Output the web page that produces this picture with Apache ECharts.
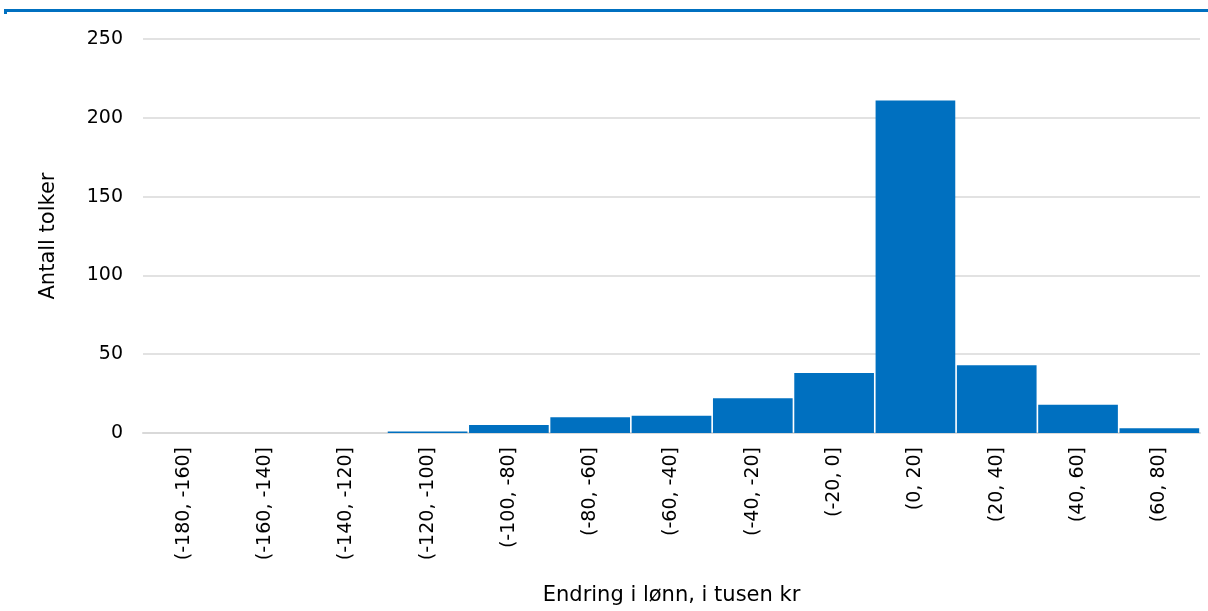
<!DOCTYPE html>
<html>
<head>
<meta charset="utf-8">
<script src="https://cdn.jsdelivr.net/npm/echarts@6/dist/echarts.min.js"></script>
<style>
  html, body { margin: 0; padding: 0; background: #fff; }
  #chart { width: 1208px; height: 611px; }
</style>
</head>
<body>
<div id="chart"></div>
<script>
  // intervaller (tusen kr)
  const categories = ['(-180, -160]', '(-160, -140]', '(-140, -120]', '(-120, -100]', '(-100, -80]',
    '(-80, -60]', '(-60, -40]', '(-40, -20]', '(-20, 0]', '(0, 20]', '(20, 40]', '(40, 60]', '(60, 80]']
  const counts = [0, 0, 0, 1, 5, 10, 11, 22, 38, 211, 43, 18, 3]
  const yTicks = [0, 50, 100, 150, 200, 250]

  const myChart = echarts.init(document.getElementById('chart'))
  const font = '"Century Gothic", "DejaVu Sans", sans-serif'

  const option = {
    animation: false,
    textStyle: { fontFamily: font },
    graphic: [
      // blå linje øverst
      { type: 'rect', shape: { x: 4, y: 9, width: 1204, height: 3 }, style: { fill: '#0070c0' } },
      { type: 'rect', shape: { x: 4, y: 12, width: 3, height: 2 }, style: { fill: '#0070c0' } }
    ],
    grid: { left: 143, right: 8, top: 39, bottom: 178 },
    xAxis: {
      type: 'category',
      data: categories,
      name: 'Endring i lønn, i tusen kr',
      nameLocation: 'middle',
      nameGap: 152,
      nameTextStyle: { fontSize: 21, color: '#000', fontFamily: font },
      axisTick: { show: false },
      axisLine: { show: true, lineStyle: { color: '#d9d9d9', width: 2 } },
      axisLabel: { rotate: 90, fontSize: 19, color: '#000', margin: 14, interval: 0, fontFamily: font }
    },
    yAxis: {
      type: 'value',
      min: yTicks[0],
      max: yTicks[yTicks.length - 1],
      interval: 50,
      name: 'Antall tolker',
      nameLocation: 'middle',
      nameRotate: 90,
      nameGap: 84,
      nameTextStyle: { fontSize: 21, color: '#000', fontFamily: font },
      axisLine: { show: false },
      axisTick: { show: false },
      axisLabel: { fontSize: 19, color: '#000', margin: 20, fontFamily: font },
      splitLine: { lineStyle: { color: '#d9d9d9', width: 1.5 } }
    },
    series: [{
      type: 'bar',
      data: counts,
      barCategoryGap: '2%',
      itemStyle: { color: '#0070c0' }
    }]
  }
  myChart.setOption(option)
</script>
</body>
</html>
